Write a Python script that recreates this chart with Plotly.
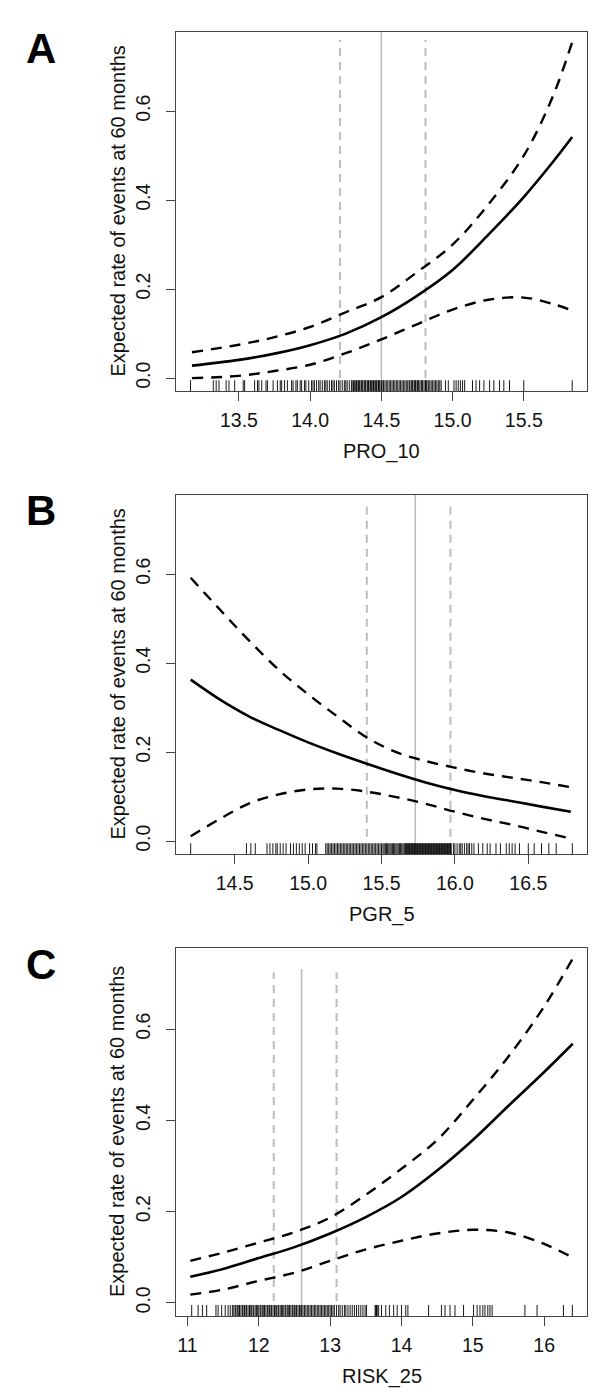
import plotly.graph_objects as go

W, H = 600, 1400
FONT = "Liberation Sans, Arial, Helvetica, sans-serif"

# ---------------- Panel A : PRO_10 ----------------
a_x = [13.17, 13.5, 13.75, 14.0, 14.25, 14.5, 14.75, 15.0, 15.25, 15.5, 15.7, 15.84]
a_fit = [0.028, 0.041, 0.055, 0.074, 0.100, 0.137, 0.185, 0.243, 0.322, 0.407, 0.484, 0.542]
a_upper = [0.058, 0.075, 0.092, 0.115, 0.148, 0.182, 0.238, 0.300, 0.390, 0.500, 0.630, 0.755]
a_lower = [0.000, 0.005, 0.016, 0.030, 0.056, 0.087, 0.121, 0.154, 0.176, 0.181, 0.167, 0.152]
a_cut_mid = 14.50
a_cut_ci = [14.21, 14.81]
a_ticks = [13.5, 14.0, 14.5, 15.0, 15.5]
a_rug = [13.16, 13.32, 13.34, 13.36, 13.41, 13.43, 13.47, 13.53, 13.54,
         13.61, 13.63, 13.64, 13.66, 13.69, 13.70, 13.74,
         13.77, 13.79, 13.80, 13.82, 13.84, 13.87, 13.88, 13.90, 13.91, 13.93, 13.94, 13.96, 13.97, 13.99, 14.01,
         14.02, 14.03, 14.045, 14.06, 14.07, 14.085, 14.10, 14.11, 14.12, 14.135, 14.15, 14.16, 14.17, 14.185,
         14.20, 14.21, 14.225, 14.24, 14.25, 14.26, 14.275, 14.29,
         14.30, 14.305, 14.31, 14.32, 14.325, 14.33, 14.34, 14.345, 14.35, 14.36, 14.365, 14.37, 14.38, 14.385,
         14.39, 14.40, 14.405, 14.41, 14.42, 14.425, 14.43, 14.44, 14.445, 14.45, 14.46, 14.465, 14.47, 14.48,
         14.485, 14.49, 14.50, 14.505,
         14.515, 14.525, 14.535, 14.545, 14.555, 14.565, 14.575, 14.585, 14.595, 14.605, 14.615, 14.625, 14.635,
         14.645, 14.655, 14.665, 14.675, 14.685, 14.695,
         14.70, 14.71, 14.715, 14.72, 14.73, 14.735, 14.74, 14.75, 14.755, 14.76, 14.77, 14.78, 14.785, 14.79,
         14.80, 14.81, 14.815, 14.82, 14.83, 14.84, 14.85, 14.86, 14.87, 14.88, 14.89, 14.90, 14.91, 14.92,
         14.95, 14.97, 15.01, 15.025, 15.04, 15.055, 15.07, 15.085,
         15.14, 15.165, 15.19, 15.22, 15.26, 15.29, 15.33, 15.36, 15.40, 15.50, 15.84]

# ---------------- Panel B : PGR_5 ----------------
b_x = [14.2, 14.4, 14.6, 14.8, 15.0, 15.2, 15.4, 15.6, 15.8, 16.0, 16.2, 16.4, 16.6, 16.79]
b_fit = [0.363, 0.318, 0.280, 0.250, 0.222, 0.197, 0.174, 0.152, 0.132, 0.115, 0.101, 0.089, 0.077, 0.066]
b_upper = [0.592, 0.520, 0.450, 0.385, 0.330, 0.280, 0.233, 0.200, 0.180, 0.165, 0.152, 0.142, 0.132, 0.121]
b_lower = [0.011, 0.050, 0.085, 0.105, 0.116, 0.118, 0.111, 0.099, 0.084, 0.066, 0.050, 0.036, 0.020, 0.006]
b_cut_mid = 15.73
b_cut_ci = [15.40, 15.97]
b_ticks = [14.5, 15.0, 15.5, 16.0, 16.5]
b_rug = [14.20, 14.58, 14.61, 14.64, 14.72, 14.74, 14.76, 14.78, 14.79, 14.81, 14.83, 14.85, 14.88, 14.90,
         14.92, 14.94, 14.96, 14.98, 15.01, 15.03, 15.05, 15.06,
         15.12, 15.13, 15.14, 15.15, 15.16, 15.17, 15.18, 15.19, 15.20, 15.21, 15.22, 15.23, 15.24, 15.25,
         15.26, 15.27, 15.28, 15.29, 15.30, 15.31, 15.32, 15.33, 15.34, 15.35, 15.36, 15.37, 15.38, 15.39,
         15.40, 15.41, 15.42, 15.43, 15.44, 15.45, 15.46, 15.47, 15.48, 15.49, 15.50,
         15.51, 15.518, 15.526, 15.534, 15.542, 15.55, 15.558, 15.566, 15.574, 15.582, 15.59, 15.598, 15.606,
         15.614, 15.622, 15.63, 15.638, 15.646, 15.654,
         15.66, 15.665, 15.67, 15.675, 15.68, 15.685, 15.69, 15.695, 15.70, 15.705, 15.71, 15.715, 15.72,
         15.725, 15.73, 15.735, 15.74, 15.745, 15.75, 15.755, 15.76, 15.765, 15.77, 15.775, 15.78, 15.785,
         15.79, 15.795, 15.80, 15.805, 15.81, 15.815, 15.82, 15.825, 15.83, 15.835, 15.84, 15.845, 15.85,
         15.855, 15.86, 15.865, 15.87, 15.875, 15.88, 15.885, 15.89, 15.895, 15.90, 15.905, 15.91, 15.915,
         15.92, 15.925, 15.93, 15.935, 15.94, 15.945, 15.95, 15.955, 15.96, 15.965, 15.97, 15.975,
         15.99, 16.00, 16.015, 16.03, 16.04, 16.05, 16.065, 16.08, 16.09, 16.10, 16.115, 16.13,
         16.16, 16.19, 16.22, 16.24, 16.28, 16.31, 16.35, 16.37, 16.39, 16.41, 16.44,
         16.50, 16.54, 16.59, 16.64, 16.69, 16.80]

# ---------------- Panel C : RISK_25 ----------------
c_x = [11.04, 11.5, 12.0, 12.5, 13.0, 13.5, 14.0, 14.5, 15.0, 15.5, 16.0, 16.40]
c_fit = [0.057, 0.074, 0.098, 0.122, 0.152, 0.188, 0.232, 0.290, 0.357, 0.432, 0.506, 0.568]
c_upper = [0.092, 0.110, 0.132, 0.155, 0.187, 0.237, 0.294, 0.357, 0.445, 0.540, 0.650, 0.755]
c_lower = [0.018, 0.029, 0.048, 0.066, 0.092, 0.117, 0.136, 0.152, 0.160, 0.154, 0.129, 0.099]
c_cut_mid = 12.60
c_cut_ci = [12.21, 13.09]
c_ticks = [11, 12, 13, 14, 15, 16]
c_rug = [11.06, 11.15, 11.21, 11.27, 11.40, 11.43, 11.48, 11.53, 11.57, 11.60, 11.63,
         11.65, 11.67, 11.68, 11.70, 11.72, 11.73, 11.75, 11.77, 11.78, 11.80, 11.82, 11.83, 11.85, 11.87,
         11.88, 11.90, 11.92, 11.93, 11.95, 11.97, 11.98, 12.00, 12.02, 12.03, 12.05, 12.07, 12.08, 12.10,
         12.12, 12.13, 12.15, 12.17, 12.18, 12.20, 12.22, 12.23, 12.25, 12.27, 12.28, 12.30, 12.32, 12.33,
         12.35, 12.37, 12.38, 12.40, 12.42, 12.43, 12.45, 12.47, 12.48, 12.50, 12.52, 12.53, 12.55, 12.57,
         12.58, 12.60, 12.62, 12.64, 12.66, 12.68, 12.70, 12.72, 12.74, 12.76, 12.78, 12.80, 12.82, 12.84,
         12.86, 12.88, 12.90, 12.92, 12.94, 12.96, 12.98, 13.00, 13.02, 13.04, 13.06,
         13.09, 13.12, 13.14, 13.17, 13.20, 13.22, 13.25, 13.28, 13.31, 13.34, 13.37, 13.40, 13.43, 13.46,
         13.49, 13.51, 13.63, 13.64, 13.65, 13.66, 13.68, 13.72, 13.78, 13.83, 13.89, 13.94, 14.00, 14.06,
         14.09, 14.38, 14.56, 14.61, 14.68, 14.75, 14.87, 15.01, 15.06, 15.10, 15.14, 15.17, 15.21, 15.24,
         15.27, 15.73, 15.90, 16.27, 16.395]

# gray reference line vertical extents (data units)
a_ci_span, a_mid_span = [0.0, 0.76], [-0.03, 0.78]
b_ci_span, b_mid_span = [0.01, 0.757], [-0.03, 0.78]
c_ci_span, c_mid_span = [0.004, 0.724], [-0.03, 0.732]

y_ticks = [0.0, 0.2, 0.4, 0.6]
y_ticktext = ["0.0", "0.2", "0.4", "0.6"]
y_range = [-0.029, 0.778]
y_title = "Expected rate of events at 60 months"

panels = [
    dict(letter="A", xlabel="PRO_10", x=a_x, fit=a_fit, up=a_upper, lo=a_lower, mid=a_cut_mid,
         ci=a_cut_ci, ticks=a_ticks, rug=a_rug, xr=[13.058, 15.944], top=24, bot=383,
         ci_span=a_ci_span, mid_span=a_mid_span, fmt="{:.1f}"),
    dict(letter="B", xlabel="PGR_5", x=b_x, fit=b_fit, up=b_upper, lo=b_lower, mid=b_cut_mid,
         ci=b_cut_ci, ticks=b_ticks, rug=b_rug, xr=[14.10, 16.90], top=487, bot=846,
         ci_span=b_ci_span, mid_span=b_mid_span, fmt="{:.1f}"),
    dict(letter="C", xlabel="RISK_25", x=c_x, fit=c_fit, up=c_upper, lo=c_lower, mid=c_cut_mid,
         ci=c_cut_ci, ticks=c_ticks, rug=c_rug, xr=[10.84, 16.60], top=940, bot=1308,
         ci_span=c_ci_span, mid_span=c_mid_span, fmt="{:d}"),
]

LEFT, RIGHT = 168, 579
fig = go.Figure()
shapes = []
annotations = []
layout_axes = {}

for i, p in enumerate(panels):
    n = "" if i == 0 else str(i + 1)
    xa, ya = "x" + n, "y" + n
    gray = "#bdbdbd"
    # gray cut-point lines
    for cx in p["ci"]:
        fig.add_trace(go.Scatter(x=[cx, cx], y=p["ci_span"], xaxis=xa, yaxis=ya, mode="lines",
                                 line=dict(color=gray, width=2, dash="8px,6px"), hoverinfo="skip"))
    fig.add_trace(go.Scatter(x=[p["mid"], p["mid"]], y=p["mid_span"], xaxis=xa, yaxis=ya, mode="lines",
                             line=dict(color=gray, width=1.6), hoverinfo="skip"))
    # confidence bands
    for band in (p["up"], p["lo"]):
        fig.add_trace(go.Scatter(x=p["x"], y=band, xaxis=xa, yaxis=ya, mode="lines",
                                 line=dict(color="black", width=2.4, dash="11px,8px", shape="spline",
                                           smoothing=1.0), hoverinfo="skip"))
    fig.add_trace(go.Scatter(x=p["x"], y=p["fit"], xaxis=xa, yaxis=ya, mode="lines",
                             line=dict(color="black", width=2.6, shape="spline", smoothing=1.0),
                             hoverinfo="skip"))
    # rug
    for r in p["rug"]:
        shapes.append(dict(type="line", xref=xa, yref=ya + " domain", x0=r, x1=r, y0=0, y1=0.03,
                           line=dict(color="rgba(0,0,0,0.9)", width=1)))

    ydom = [1 - p["bot"] / H, 1 - p["top"] / H]
    xdom = [LEFT / W, RIGHT / W]
    layout_axes["xaxis" + n] = dict(
        domain=xdom, range=p["xr"], anchor=ya, tickvals=p["ticks"],
        ticktext=[p["fmt"].format(t) for t in p["ticks"]],
        ticks="outside", ticklen=9, tickwidth=1, tickcolor="#444",
        showline=True, linecolor="#444", linewidth=1.2, mirror=True,
        showgrid=False, zeroline=False,
        tickfont=dict(family=FONT, size=19.5, color="#111"), ticklabelstandoff=2)
    layout_axes["yaxis" + n] = dict(
        domain=ydom, range=y_range, anchor=xa, tickvals=y_ticks, ticktext=y_ticktext,
        tickangle=-90, ticks="outside", ticklen=9, tickwidth=1, tickcolor="#444",
        showline=True, linecolor="#444", linewidth=1.2, mirror=True,
        showgrid=False, zeroline=False,
        tickfont=dict(family=FONT, size=19.5, color="#111"), ticklabelstandoff=8)

    # panel letter
    annotations.append(dict(text="<b>" + p["letter"] + "</b>", xref="paper", yref="paper",
                            x=33 / W, y=1 - (p["top"] + 16) / H, xanchor="center", yanchor="middle",
                            showarrow=False, font=dict(family=FONT, size=42, color="black")))
    # y title
    annotations.append(dict(text=y_title, xref="paper", yref="paper", textangle=-90,
                            x=109 / W, y=1 - ((p["top"] + p["bot"]) / 2) / H,
                            xanchor="center", yanchor="middle", showarrow=False,
                            font=dict(family=FONT, size=20, color="#111")))
    # x title
    annotations.append(dict(text=p["xlabel"], xref="paper", yref="paper",
                            x=((LEFT + RIGHT) / 2) / W, y=1 - (p["bot"] + 60) / H,
                            xanchor="center", yanchor="middle", showarrow=False,
                            font=dict(family=FONT, size=20, color="#111")))

fig.update_layout(
    width=W, height=H, margin=dict(l=0, r=0, t=0, b=0),
    paper_bgcolor="white", plot_bgcolor="white", showlegend=False,
    shapes=shapes, annotations=annotations, **layout_axes)

fig.write_html("out.html")
